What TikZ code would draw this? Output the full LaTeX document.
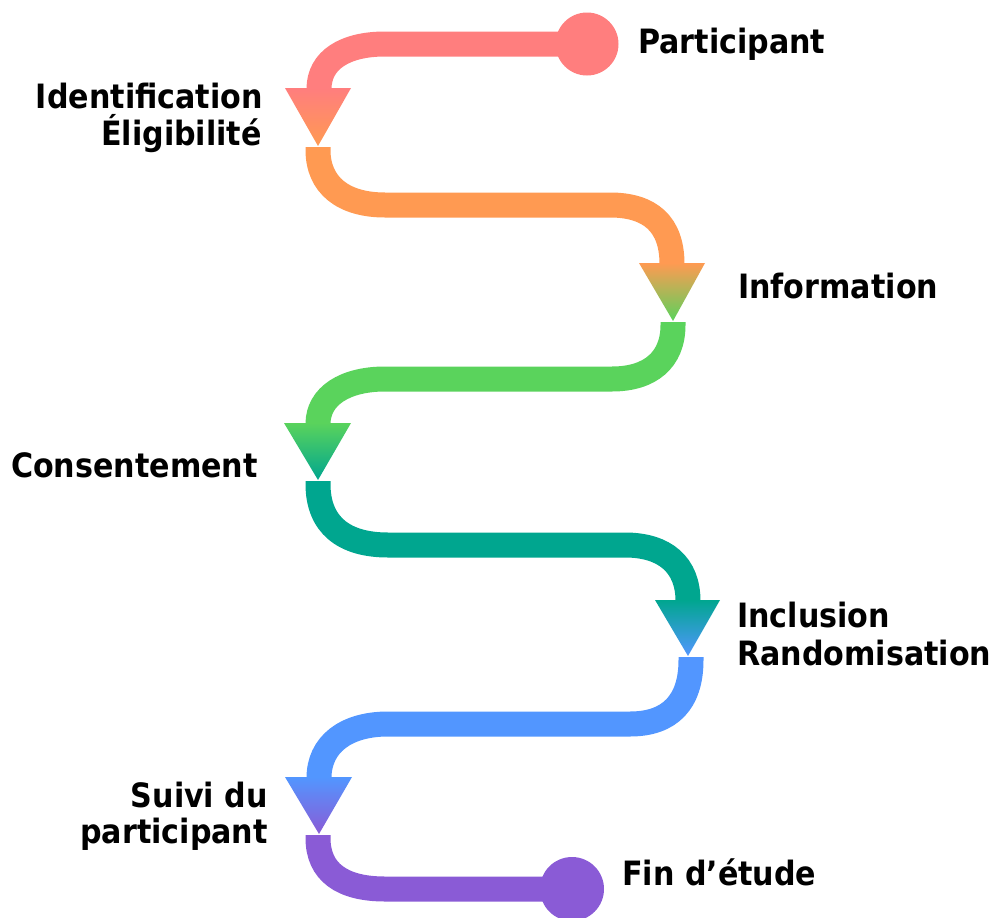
\documentclass[tikz,border=0pt]{standalone}
\usepackage{fontspec}
\newfontfamily\labfont{DejaVu Sans Condensed Bold}
\definecolor{cred}{HTML}{FF7E7E}
\definecolor{corange}{HTML}{FF9A52}
\definecolor{cgreen}{HTML}{5AD35C}
\definecolor{cteal}{HTML}{00A68F}
\definecolor{cblue}{HTML}{5296FF}
\definecolor{cpurple}{HTML}{8A5BD6}
\tikzset{
  band/.style={line width=25pt, line cap=butt, draw=#1},
  lab/.style={font=\labfont\fontsize{33.5}{40}\selectfont, inner sep=0pt, text=black},
}
\begin{document}
\begin{tikzpicture}[x=1pt,y=-1pt]
\useasboundingbox (0,0) rectangle (993,918);
% key points
\coordinate (s1) at (587,44);
\coordinate (b1) at (319,89);
\coordinate (t1) at (318,147);
\coordinate (b2) at (672,264);
\coordinate (t2) at (673,322);
\coordinate (b3) at (318,424);
\coordinate (t3) at (318,481);
\coordinate (b4) at (688,601);
\coordinate (t4) at (691,657);
\coordinate (b5) at (319,778);
\coordinate (t5) at (318,835);
\coordinate (e6) at (572,889);
% segment 1
\draw[band=cred] (s1) -- (385,44) .. controls (345,44) and (319,60) .. (b1);
\fill[cred] (s1) circle (31.5);
% segment 2
\draw[band=corange] (t1) -- (318,150) .. controls (318,185) and (343,205) .. (385,205) -- (610,205) .. controls (650,205) and (672,224) .. (b2);
% segment 3
\draw[band=cgreen] (t2) -- (673,325) .. controls (673,360) and (650,379) .. (612,379) -- (385,379) .. controls (345,379) and (318,396) .. (b3);
% segment 4
\draw[band=cteal] (t3) -- (318,484) .. controls (318,525) and (344,545) .. (388,545) -- (625,545) .. controls (665,545) and (688,565) .. (b4);
% segment 5
\draw[band=cblue] (t4) -- (691,660) .. controls (691,702) and (670,724) .. (630,724) -- (388,724) .. controls (345,724) and (319,745) .. (b5);
% segment 6
\draw[band=cpurple] (t5) -- (318,838) .. controls (318,872) and (342,889) .. (385,889) -- (e6);
\fill[cpurple] (e6) circle (32);
% arrow heads
\shade[top color=cred, bottom color=corange] (285,88) -- (351,88) -- (318,146) -- cycle;
\shade[top color=corange, bottom color=cgreen] (639,263) -- (705,263) -- (673,321) -- cycle;
\shade[top color=cgreen, bottom color=cteal] (284,423) -- (351,423) -- (318,480) -- cycle;
\shade[top color=cteal, bottom color=cblue] (655,600) -- (720,600) -- (688,656) -- cycle;
\shade[top color=cblue, bottom color=cpurple] (285,777) -- (352,777) -- (319,834) -- cycle;
% labels
\node[lab, anchor=base west] (participant) at (638,53) {Participant};
\node[lab, anchor=base east] (ident) at (263,108) {Identification};
\node[lab, anchor=base east] (elig) at (262,145) {Éligibilité};
\node[lab, anchor=base west] (info) at (738,298) {Information};
\node[lab, anchor=base east] (consent) at (258,477) {Consentement};
\node[lab, anchor=base west] (incl) at (737,627) {Inclusion};
\node[lab, anchor=base west] (rand) at (737,665) {Randomisation};
\node[lab, anchor=base east] (suivi) at (268,807) {Suivi du};
\node[lab, anchor=base east] (partic) at (268,843) {participant};
\node[lab, anchor=base west] (fin) at (622,885) {Fin d’étude};
\end{tikzpicture}
\end{document}
